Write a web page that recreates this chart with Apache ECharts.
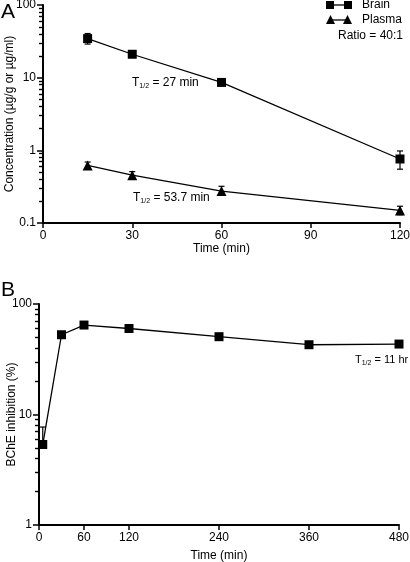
<!DOCTYPE html>
<html>
<head>
<meta charset="utf-8">
<script src="https://cdn.jsdelivr.net/npm/echarts@6/dist/echarts.min.js"></script>
<style>
html,body{margin:0;padding:0;background:#fff;}
#c{width:410px;height:562px;}
</style>
</head>
<body>
<div id="c"></div>
<script>
// Panel A data
var timeA = [15, 30, 60, 120];
var brain = [34.5, 21, 8.6, 0.76];
var brainLo = [29, 19, 8.0, 0.55];
var brainHi = [40.5, 23, 9.2, 0.98];
var plasma = [0.62, 0.455, 0.275, 0.149];
var plasmaLo = [0.56, 0.41, 0.24, 0.13];
var plasmaHi = [0.69, 0.51, 0.32, 0.17];
var xTicksA = [0, 30, 60, 90, 120];
var yTicksA = [0.1, 1, 10, 100];
// Panel B data
var timeB = [5, 30, 60, 120, 240, 360, 480];
var bche = [5.35, 52.7, 64.5, 60, 50.6, 42.8, 43.4];
var bcheLo = [5.0, 50, 62, 57.5, 48.5, 41, 41];
var bcheHi = [7.7, 55.5, 67, 62.5, 52.5, 44.5, 45.5];
var xTicksB = [0, 60, 120, 240, 360, 480];
var yTicksB = [1, 10, 100];

function minorVals(lo, hi) {
  var out = [];
  for (var d = lo; d < hi; d *= 10) {
    for (var k = 2; k <= 9; k++) out.push(+(d * k).toPrecision(3));
  }
  return out;
}

var FONT = 'Liberation Sans';
var chart = echarts.init(document.getElementById('c'), null, {renderer: 'canvas'});

function errData(x, lo, hi) {
  return x.map(function (v, i) { return [v, lo[i], hi[i]]; });
}
function errRender(params, api) {
  var x = api.value(0);
  var p1 = api.coord([x, api.value(1)]);
  var p2 = api.coord([x, api.value(2)]);
  var w = 3;
  var st = {stroke: '#000', lineWidth: 1.2};
  return {
    type: 'group',
    children: [
      {type: 'line', shape: {x1: p1[0], y1: p1[1], x2: p2[0], y2: p2[1]}, style: st},
      {type: 'line', shape: {x1: p1[0] - w, y1: p1[1], x2: p1[0] + w, y2: p1[1]}, style: st},
      {type: 'line', shape: {x1: p2[0] - w, y1: p2[1], x2: p2[0] + w, y2: p2[1]}, style: st}
    ]
  };
}

var axisLine = {show: true, lineStyle: {color: '#000', width: 2}};
var labelStyle = {color: '#000', fontFamily: FONT, fontSize: 12};
var nameStyle = {color: '#000', fontFamily: FONT, fontSize: 12};

function zip(x, y) { return x.map(function (v, i) { return [v, y[i]]; }); }

var option = {
  animation: false,
  backgroundColor: '#fff',
  grid: [
    {left: 43, top: 5, width: 357, height: 218, outerBoundsMode: 'none', containLabel: false},
    {left: 39, top: 304, width: 360, height: 221, outerBoundsMode: 'none', containLabel: false}
  ],
  xAxis: [
    {type: 'value', gridIndex: 0, min: 0, max: 120, interval: 30,
     axisLine: axisLine, splitLine: {show: false},
     axisTick: {show: true, length: 5, lineStyle: {color: '#000', width: 1.5}, customValues: xTicksA},
     axisLabel: Object.assign({margin: 7, customValues: xTicksA}, labelStyle),
     name: 'Time (min)', nameLocation: 'middle', nameGap: 18, nameTextStyle: nameStyle},
    {type: 'value', gridIndex: 1, min: 0, max: 480, interval: 60,
     axisLine: axisLine, splitLine: {show: false},
     axisTick: {show: true, length: 5, lineStyle: {color: '#000', width: 1.5}, customValues: xTicksB},
     axisLabel: Object.assign({margin: 7, customValues: xTicksB}, labelStyle),
     name: 'Time (min)', nameLocation: 'middle', nameGap: 25, nameTextStyle: nameStyle}
  ],
  yAxis: [
    {type: 'log', gridIndex: 0, min: 0.1, max: 100, logBase: 10, position: 'left',
     axisLine: axisLine, splitLine: {show: false},
     axisTick: {show: true, length: 6, lineStyle: {color: '#000', width: 1.5}, customValues: yTicksA},
     axisLabel: Object.assign({margin: 7, customValues: yTicksA, formatter: function (v) { return String(+v.toPrecision(3)); }}, labelStyle),
     name: 'Concentration (\u00b5g/g or \u00b5g/ml)', nameLocation: 'middle', nameGap: 27, nameMoveOverlap: false, nameTextStyle: nameStyle},
    {type: 'log', gridIndex: 0, min: 0.1, max: 100, logBase: 10, position: 'left', offset: 0,
     axisLine: {show: false}, splitLine: {show: false},
     axisTick: {show: true, length: 4, lineStyle: {color: '#000', width: 1.4}, customValues: minorVals(0.1, 100)},
     axisLabel: {show: false}},
    {type: 'log', gridIndex: 1, min: 1, max: 100, logBase: 10, position: 'left',
     axisLine: axisLine, splitLine: {show: false},
     axisTick: {show: true, length: 6, lineStyle: {color: '#000', width: 1.5}, customValues: yTicksB},
     axisLabel: Object.assign({margin: 7, customValues: yTicksB}, labelStyle),
     name: 'BChE inhibition (%)', nameLocation: 'middle', nameGap: 21, nameMoveOverlap: false, nameTextStyle: nameStyle},
    {type: 'log', gridIndex: 1, min: 1, max: 100, logBase: 10, position: 'left', offset: 0,
     axisLine: {show: false}, splitLine: {show: false},
     axisTick: {show: true, length: 4, lineStyle: {color: '#000', width: 1.4}, customValues: minorVals(1, 100)},
     axisLabel: {show: false}}
  ],
  series: [
    {type: 'custom', xAxisIndex: 0, yAxisIndex: 0, renderItem: errRender, data: errData(timeA, brainLo, brainHi), z: 1},
    {type: 'custom', xAxisIndex: 0, yAxisIndex: 0, renderItem: errRender, data: errData(timeA, plasmaLo, plasmaHi), z: 1},
    {type: 'custom', xAxisIndex: 1, yAxisIndex: 2, renderItem: errRender, data: errData(timeB, bcheLo, bcheHi), z: 1},
    {type: 'line', name: 'Brain', xAxisIndex: 0, yAxisIndex: 0, data: zip(timeA, brain),
     symbol: 'rect', symbolSize: 9, showAllSymbol: true,
     lineStyle: {color: '#000', width: 1.3}, itemStyle: {color: '#000'}, z: 3},
    {type: 'line', name: 'Plasma', xAxisIndex: 0, yAxisIndex: 0, data: zip(timeA, plasma),
     symbol: 'triangle', symbolSize: 10, showAllSymbol: true,
     lineStyle: {color: '#000', width: 1.3}, itemStyle: {color: '#000'}, z: 3},
    {type: 'line', name: 'BChE', xAxisIndex: 1, yAxisIndex: 2, data: zip(timeB, bche),
     symbol: 'rect', symbolSize: 9, showAllSymbol: true,
     lineStyle: {color: '#000', width: 1.3}, itemStyle: {color: '#000'}, z: 3}
  ],
  graphic: [
    {type: 'text', left: 1, top: 2, style: {text: 'A', font: '21px "Liberation Sans"', fill: '#000'}},
    {type: 'text', left: 1, top: 280, style: {text: 'B', font: '21px "Liberation Sans"', fill: '#000'}},
    // legend
    {type: 'line', shape: {x1: 330, y1: 5, x2: 347, y2: 5}, style: {stroke: '#000', lineWidth: 1.3}},
    {type: 'rect', shape: {x: 326, y: 1, width: 8, height: 8}, style: {fill: '#000'}},
    {type: 'rect', shape: {x: 344, y: 1, width: 8, height: 8}, style: {fill: '#000'}},
    {type: 'text', x: 362, y: 5, style: {text: 'Brain', font: '12px "Liberation Sans"', fill: '#000', verticalAlign: 'middle'}},
    {type: 'line', shape: {x1: 330, y1: 20, x2: 347, y2: 20}, style: {stroke: '#000', lineWidth: 1.3}},
    {type: 'polygon', shape: {points: [[326, 24], [335, 24], [330.5, 15]]}, style: {fill: '#000'}},
    {type: 'polygon', shape: {points: [[343, 24], [352, 24], [347.5, 15]]}, style: {fill: '#000'}},
    {type: 'text', x: 362, y: 20, style: {text: 'Plasma', font: '12px "Liberation Sans"', fill: '#000', verticalAlign: 'middle'}},
    {type: 'text', x: 338, y: 36, style: {text: 'Ratio = 40:1', font: '12px "Liberation Sans"', fill: '#000', verticalAlign: 'middle'}},
    {type: 'text', x: 132, y: 83, style: {text: 'T{s|1/2} = 27 min', verticalAlign: 'middle', rich: {s: {fontSize: 7, fontFamily: FONT, fill: '#000', padding: [6, 0, 0, 0]}}, font: '12px "Liberation Sans"', fill: '#000'}},
    {type: 'text', x: 133, y: 198, style: {text: 'T{s|1/2} = 53.7 min', verticalAlign: 'middle', rich: {s: {fontSize: 7, fontFamily: FONT, fill: '#000', padding: [6, 0, 0, 0]}}, font: '12px "Liberation Sans"', fill: '#000'}},
    {type: 'text', x: 355, y: 360, style: {text: 'T{s|1/2} = 11 hr', verticalAlign: 'middle', rich: {s: {fontSize: 7, fontFamily: FONT, fill: '#000', padding: [6, 0, 0, 0]}}, font: '11px "Liberation Sans"', fill: '#000'}}
  ]
};
chart.setOption(option);
</script>
</body>
</html>
